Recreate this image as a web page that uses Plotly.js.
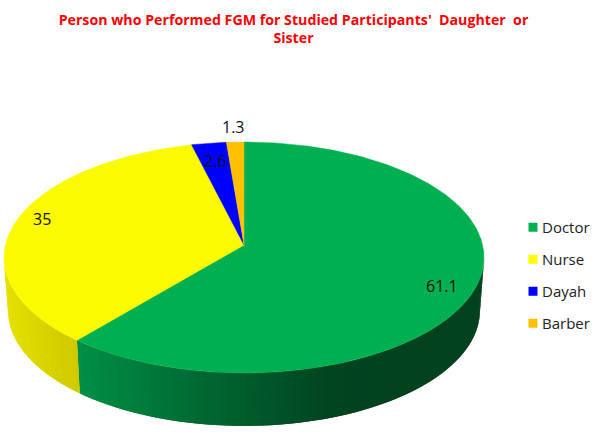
<!DOCTYPE html>
<html><head><meta charset="utf-8">
<script src="https://cdn.plot.ly/plotly-3.0.1.min.js"></script>
<style>html,body{margin:0;padding:0;background:#fff}#c{width:601px;height:442px}</style></head>
<body><div id="c"></div>
<script>
const categories = ["Doctor","Nurse","Dayah","Barber"];
const shares = [61.1,35,2.6,1.3];
const sliceColors = ["#00B050","#FCFA00","#0000FF","#FFC000"];
const legendColors = ["#00B050","#FFFF00","#0000FF","#FFC000"];
const labelPixels = [[442,286],[42,219],[215,161],[233,127]];
const titleLines = ["Person who Performed FGM for Studied Participants'  Daughter  or","Sister"];

// perspective projection of the unit disc
const cx=244, cy=245, A=238.6, B=114.1, k=0.108, depth=53, shrink=0.983;
function rimTop(deg){const t=deg*Math.PI/180,u=Math.sin(t),v=Math.cos(t),w=1+k*v;return [cx+A*u/w,cy-B*v/w];}
function rimLow(deg){const p=rimTop(deg);return [cx+(p[0]-cx)*shrink,p[1]+depth];}
function steps(a,b,n){const r=[];for(let i=0;i<=n;i++)r.push(a+(b-a)*i/n);return r;}
function mix(stops,x){
  for(let i=0;i<stops.length-1;i++){
    const s=stops[i],e=stops[i+1];
    if(x<=e[0]){const f=Math.max(0,(x-s[0])/(e[0]-s[0]));
      return `rgb(${[1,2,3].map(j=>Math.round(s[j]+(e[j]-s[j])*f)).join(",")})`;}
  }
  const l=stops[stops.length-1];return `rgb(${l[1]},${l[2]},${l[3]})`;
}
const greenRamp=[[78,0,143,68],[190,0,108,52],[330,0,68,32],[400,3,66,31],[485,3,66,31]];
const yellowRamp=[[5,228,224,0],[80,206,200,0]];

const traces=[];
const total=shares.reduce((a,b)=>a+b,0);
const ends=[];let acc=0;
shares.forEach(s=>{const a=acc/total*360;acc+=s;ends.push([a,acc/total*360]);});
const front0=Math.acos(-k)*180/Math.PI, front1=360-front0;

// side wall: overlapping strips painted in order, so no seams show through
function wall(a,b,ramp){
  const n=Math.max(2,Math.round(Math.abs(b-a)/1.2));
  for(let i=0;i<n;i++){
    const d0=a+(b-a)*i/n,d1=a+(b-a)*Math.min(n,i+2)/n,dm=(d0+d1)/2;
    const arc=[d0,dm,d1];
    const up=arc.map(rimTop),dn=arc.map(rimLow).reverse(),poly=[...up,...dn,up[0]];
    const col=mix(ramp,rimTop(a+(b-a)*(i+0.5)/n)[0]);
    traces.push({type:"scatter",mode:"lines",x:poly.map(p=>p[0]),y:poly.map(p=>p[1]),
      fill:"toself",fillcolor:col,line:{color:col,width:0},showlegend:false,hoverinfo:"skip"});
  }
}
wall(front0,ends[0][1],greenRamp);
wall(front1,ends[1][0],yellowRamp);

// top faces
ends.forEach((e,i)=>{
  const pts=steps(e[0],e[1],Math.max(4,Math.round(e[1]-e[0]))).map(rimTop);
  const xs=[cx,...pts.map(p=>p[0]),cx], ys=[cy,...pts.map(p=>p[1]),cy];
  traces.push({type:"scatter",mode:"lines",x:xs,y:ys,fill:"toself",fillcolor:sliceColors[i],
    line:{color:sliceColors[i],width:0.5},showlegend:false,name:categories[i],text:shares[i]+"",hoverinfo:"name+text"});
});

// legend entries
categories.forEach((c,i)=>traces.push({type:"scatter",mode:"markers",x:[null],y:[null],name:c,legendgroup:c,
  marker:{symbol:"square",size:9,color:legendColors[i]}}));

const layout={
  width:601,height:442,margin:{l:0,r:0,t:0,b:0},paper_bgcolor:"#fff",plot_bgcolor:"#fff",
  font:{family:"'Open Sans',sans-serif",color:"#222"},
  xaxis:{range:[0,601],visible:false,fixedrange:true},
  yaxis:{range:[442,0],visible:false,fixedrange:true},
  title:{text:titleLines.join("<br>"),font:{family:"'Open Sans',sans-serif",size:14.2,color:"#FF0000",weight:700},
    x:293.5/601,xanchor:"center",y:1-25/442,yanchor:"top"},
  legend:{x:502/601,xanchor:"left",y:1-211/442,yanchor:"top",bgcolor:"rgba(0,0,0,0)",tracegroupgap:9.5,
    font:{family:"'Open Sans',sans-serif",size:15,color:"#222"},itemclick:false,itemdoubleclick:false},
  annotations:shares.map((s,i)=>({x:labelPixels[i][0],y:labelPixels[i][1],xref:"x",yref:"y",text:String(s),showarrow:false,
    font:{family:"'Open Sans',sans-serif",size:16,color:"#111"}})),
  showlegend:true
};
Plotly.newPlot("c",traces,layout,{displayModeBar:false}).then(gd=>{
  gd.querySelectorAll(".legend .traces .legendsymbols").forEach(n=>n.setAttribute("transform","translate(11,0)"));
});
</script></body></html>
